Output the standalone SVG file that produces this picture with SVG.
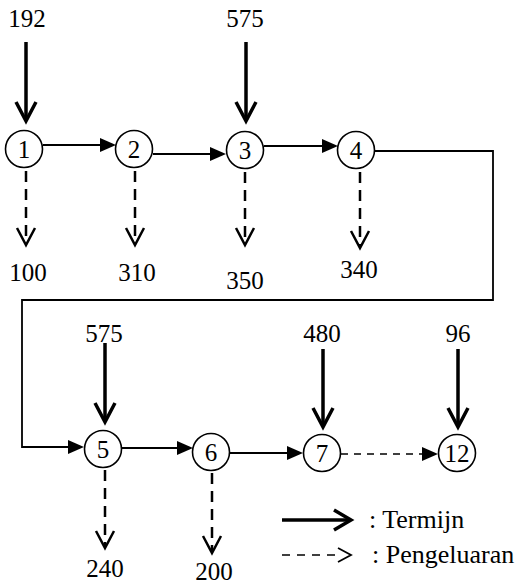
<svg xmlns="http://www.w3.org/2000/svg" width="516" height="584" viewBox="0 0 516 584">
<style>
text{font-family:"Liberation Serif","Tinos","Times New Roman","DejaVu Serif",serif;font-size:25px;fill:#000}
.lbl{text-anchor:middle}
.leg{font-size:26px}
.node circle{fill:#fff;stroke:#000;stroke-width:1.6}
.node text{text-anchor:middle}
.conn{stroke:#000;stroke-width:1.8;fill:none}
.thick{stroke:#000;stroke-width:3.5;fill:none}
.dash{stroke:#000;stroke-width:2.5;fill:none;stroke-dasharray:11 7}
.thin-dash{stroke:#000;stroke-width:1.6;fill:none;stroke-dasharray:7 6}
.open{stroke:#000;fill:none;stroke-width:2.5;stroke-linejoin:miter}
.openthick{stroke:#000;fill:none;stroke-width:3.5;stroke-linejoin:miter}
.fill{fill:#000;stroke:none}
</style>
<g id="connectors">
  <line class="thick" x1="26" y1="42" x2="26" y2="120"/><polyline class="openthick" points="16,102 26,121 36,102"/>
  <line class="thick" x1="246" y1="42" x2="246" y2="120"/><polyline class="openthick" points="236,102 246,121 256,102"/>
  <line class="thick" x1="105" y1="343" x2="105" y2="421"/><polyline class="openthick" points="95,403 105,422 115,403"/>
  <line class="thick" x1="323" y1="349" x2="323" y2="426"/><polyline class="openthick" points="313,408 323,427 333,408"/>
  <line class="thick" x1="458" y1="349" x2="458" y2="426"/><polyline class="openthick" points="448,408 458,427 468,408"/>
  <line class="dash" x1="26" y1="171" x2="26" y2="244"/><polyline class="open" points="17,228 26,245 35,228"/>
  <line class="dash" x1="135" y1="171" x2="135" y2="244"/><polyline class="open" points="126,228 135,245 144,228"/>
  <line class="dash" x1="245" y1="172" x2="245" y2="244"/><polyline class="open" points="236,228 245,245 254,228"/>
  <line class="dash" x1="360" y1="172" x2="360" y2="247"/><polyline class="open" points="351,231 360,248 369,231"/>
  <line class="dash" x1="105" y1="470" x2="105" y2="547"/><polyline class="open" points="96,531 105,548 114,531"/>
  <line class="dash" x1="212" y1="473" x2="212" y2="552"/><polyline class="open" points="203,536 212,553 221,536"/>
  <line class="conn" x1="43" y1="145" x2="102" y2="145"/><polygon class="fill" points="100,138 116,145 100,152"/>
  <line class="conn" x1="153" y1="154" x2="212" y2="154"/><polygon class="fill" points="210,147 226,154 210,161"/>
  <line class="conn" x1="264" y1="146" x2="324" y2="146"/><polygon class="fill" points="322,139 338,146 322,153"/>
  <polyline class="conn" points="374,151 493,151 493,300 22,300 22,447 70,447"/><polygon class="fill" points="68,440 84,447 68,454"/>
  <line class="conn" x1="122" y1="448" x2="179" y2="448"/><polygon class="fill" points="177,441 193,448 177,455"/>
  <line class="conn" x1="229" y1="453" x2="289" y2="453"/><polygon class="fill" points="287,446 303,453 287,460"/>
  <line class="thin-dash" x1="341" y1="454" x2="424" y2="454"/><polygon class="fill" points="422,447 438,454 422,461"/>
</g>
<g id="n1" class="node"><circle cx="24" cy="149" r="18.5"/><text x="24" y="158">1</text></g>
<g id="n2" class="node"><circle cx="134" cy="149" r="18.5"/><text x="134" y="158">2</text></g>
<g id="n3" class="node"><circle cx="245" cy="150" r="18.5"/><text x="245" y="159">3</text></g>
<g id="n4" class="node"><circle cx="356" cy="150" r="18.5"/><text x="356" y="159">4</text></g>
<g id="n5" class="node"><circle cx="103" cy="449" r="18.5"/><text x="103" y="458">5</text></g>
<g id="n6" class="node"><circle cx="211" cy="452" r="18.5"/><text x="211" y="461">6</text></g>
<g id="n7" class="node"><circle cx="322" cy="453" r="18.5"/><text x="322" y="462">7</text></g>
<g id="n12" class="node"><circle cx="457" cy="453" r="18.5"/><text x="457" y="462">12</text></g>
<g id="labels">
  <text class="lbl" x="27" y="27">192</text>
  <text class="lbl" x="245" y="27">575</text>
  <text class="lbl" x="28" y="281">100</text>
  <text class="lbl" x="137" y="281">310</text>
  <text class="lbl" x="245" y="289">350</text>
  <text class="lbl" x="359" y="278">340</text>
  <text class="lbl" x="104" y="342">575</text>
  <text class="lbl" x="322" y="342">480</text>
  <text class="lbl" x="458" y="342">96</text>
  <text class="lbl" x="105" y="577">240</text>
  <text class="lbl" x="214" y="580">200</text>
</g>
<g id="legend">
  <line class="thick" x1="282" y1="520" x2="349" y2="520"/><polyline class="openthick" points="334,510 351,520 334,530"/>
  <text class="leg" x="369" y="528">: Termijn</text>
  <line class="thin-dash" x1="282" y1="555" x2="337" y2="555" style="stroke-dasharray:8 7"/><polyline class="open" style="stroke-width:1.8" points="338,548 351,555 338,562"/>
  <text class="leg" x="372" y="563">: Pengeluaran</text>
</g>
</svg>
